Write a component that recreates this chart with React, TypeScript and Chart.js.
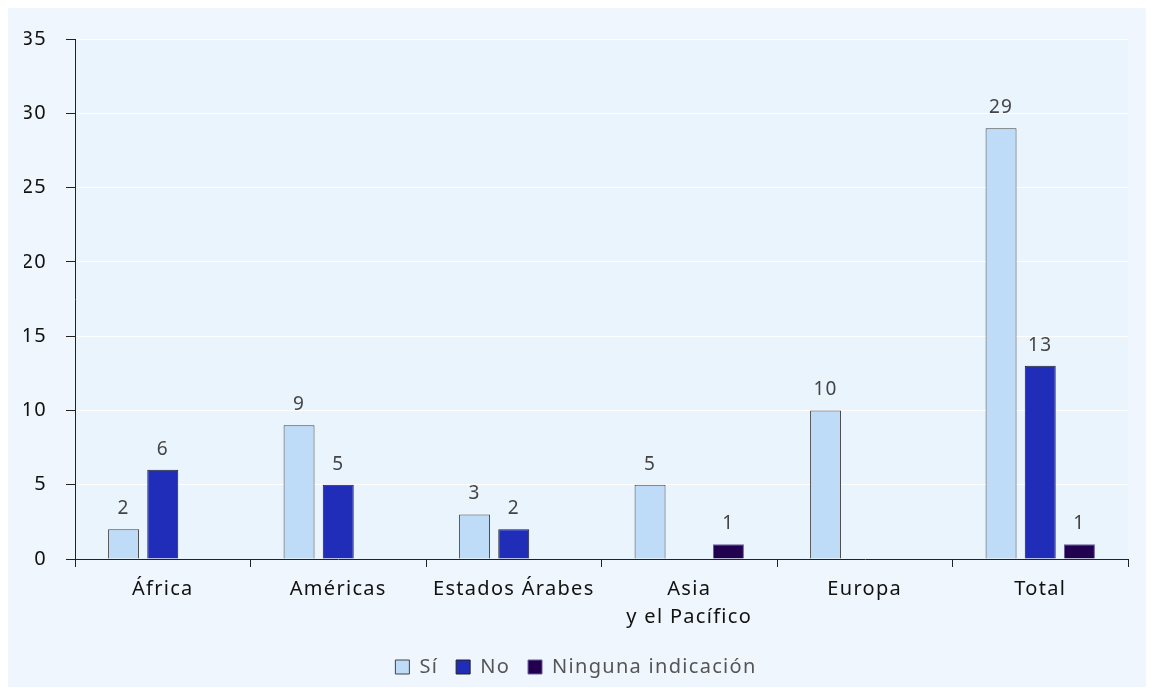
import React, { useEffect, useRef } from "react";
import { Chart, registerables } from "chart.js";

Chart.register(...registerables);

const categories: (string | string[])[] = ["África", "Américas", "Estados Árabes", ["Asia", "y el Pacífico"], "Europa", "Total"];
const siValues: (number | null)[] = [2, 9, 3, 5, 10, 29];
const noValues: (number | null)[] = [6, 5, 2, null, null, 13];
const ningunaValues: (number | null)[] = [null, null, null, 1, null, 1];
const yTicks = [0, 5, 10, 15, 20, 25, 30, 35];

const FONT = "'Noto Sans', 'Open Sans', sans-serif";
const SPACING = "1.3px";

const spacingPlugin = {
  id: "spacing",
  beforeLayout(chart: any) {
    chart.ctx.letterSpacing = SPACING;
  },
  beforeDraw(chart: any) {
    chart.ctx.letterSpacing = SPACING;
  },
};

const plotBg = {
  id: "plotBg",
  beforeDraw(chart: any) {
    const { ctx, chartArea } = chart;
    ctx.save();
    ctx.fillStyle = "#EAF4FD";
    ctx.fillRect(chartArea.left, chartArea.top, chartArea.right - chartArea.left, chartArea.bottom - chartArea.top);
    ctx.restore();
  },
};

const dataLabels = {
  id: "dataLabels",
  afterDatasetsDraw(chart: any) {
    const { ctx } = chart;
    ctx.save();
    ctx.letterSpacing = SPACING;
    ctx.font = `19px ${FONT}`;
    ctx.fillStyle = "#444444";
    ctx.textAlign = "center";
    ctx.textBaseline = "alphabetic";
    chart.data.datasets.forEach((ds: any, i: number) => {
      const meta = chart.getDatasetMeta(i);
      meta.data.forEach((el: any, j: number) => {
        const v = ds.data[j];
        if (v === null || v === undefined) return;
        ctx.fillText(String(v), el.x, el.y - 15);
      });
    });
    ctx.restore();
  },
};

export default function App() {
  const ref = useRef<HTMLCanvasElement>(null);
  useEffect(() => {
    if (!ref.current) return;
    const chart = new Chart(ref.current, {
      type: "bar",
      data: {
        labels: categories as any,
        datasets: [
          { label: "Sí", data: siValues, backgroundColor: "#BEDCF8", borderColor: "#444444", borderWidth: 1 },
          { label: "No", data: noValues, backgroundColor: "#1F2DB8", borderColor: "#222222", borderWidth: 1 },
          { label: "Ninguna indicación", data: ningunaValues, backgroundColor: "#20004F", borderColor: "#6A5C9A", borderWidth: 1 },
        ],
      },
      options: {
        animation: false,
        responsive: true,
        maintainAspectRatio: false,
        layout: { padding: { top: 21, right: 18, left: 16, bottom: 0 } },
        datasets: { bar: { categoryPercentage: 0.67, barPercentage: 0.79, skipNull: false } },
        plugins: {
          legend: {
            position: "bottom",
            labels: {
              boxWidth: 14,
              boxHeight: 14,
              color: "#555555",
              font: { family: FONT, size: 20 },
              padding: 18,
            },
          },
          tooltip: { enabled: false },
        },
        scales: {
          x: {
            grid: { color: "transparent", tickColor: "#222222", tickLength: 8, offset: true },
            border: { display: true, color: "#222222" },
            ticks: { color: "#111111", font: { family: FONT, size: 20, lineHeight: 1.4 }, padding: 8 },
          },
          y: {
            min: 0,
            max: 35,
            afterBuildTicks(axis: any) {
              axis.ticks = yTicks.map((v) => ({ value: v }));
            },
            afterFit(axis: any) {
              axis.width = 51;
            },
            grid: { color: "#FFFFFF", tickColor: "#222222", tickLength: 9 },
            border: { display: true, color: "#222222" },
            ticks: { color: "#111111", font: { family: FONT, size: 20 }, padding: 19 },
          },
        },
      },
      plugins: [spacingPlugin, plotBg, dataLabels],
    });
    return () => chart.destroy();
  }, []);
  return (
    <div style={{ width: 1138, height: 679, background: "#F0F6FD" }}>
      <canvas ref={ref} />
    </div>
  );
}
